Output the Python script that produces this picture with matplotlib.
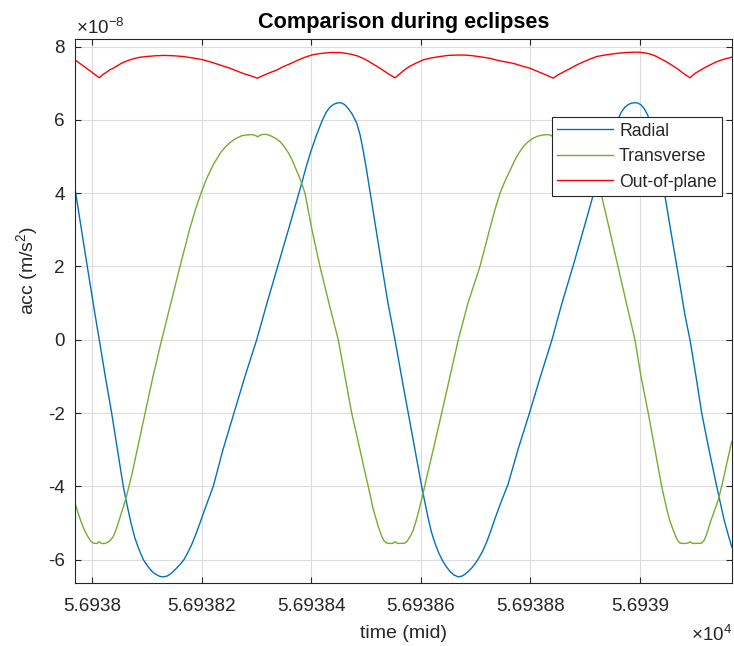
import numpy as np
import matplotlib
matplotlib.use("Agg")
import matplotlib.pyplot as plt
from matplotlib.ticker import FuncFormatter

plt.rcParams['font.family'] = ['Liberation Sans', 'DejaVu Sans']
plt.rcParams['mathtext.fontset'] = 'custom'
plt.rcParams['mathtext.rm'] = 'Liberation Sans'
plt.rcParams['mathtext.it'] = 'Liberation Sans:italic'

# ---------------- data (time in MJD, acceleration in units of 1e-8 m/s^2) ----------------
t_radial = [56937.9679, 56937.9775, 56937.9867, 56937.9958, 56938.0049, 56938.0128,
            56938.0232, 56938.0354, 56938.0460, 56938.0566, 56938.0634, 56938.0707,
            56938.0780, 56938.0853, 56938.0932, 56938.0999, 56938.1054, 56938.1118,
            56938.1182, 56938.1237, 56938.1297, 56938.1364, 56938.1419, 56938.1483,
            56938.1547, 56938.1611, 56938.1675, 56938.1748, 56938.1821, 56938.1894,
            56938.1967, 56938.2086, 56938.2210, 56938.2387, 56938.2588, 56938.2789,
            56938.3003, 56938.3191, 56938.3397, 56938.3611, 56938.3825, 56938.3903,
            56938.3995, 56938.4086, 56938.4190, 56938.4269, 56938.4342, 56938.4415,
            56938.4469, 56938.4511, 56938.4561, 56938.4616, 56938.4670, 56938.4743,
            56938.4829, 56938.4890, 56938.4944, 56938.5008, 56938.5072, 56938.5182,
            56938.5291, 56938.5401, 56938.5529, 56938.5648, 56938.5772, 56938.5894,
            56938.6016, 56938.6077, 56938.6132, 56938.6195, 56938.6259, 56938.6323,
            56938.6387, 56938.6460, 56938.6533, 56938.6606, 56938.6685, 56938.6753,
            56938.6807, 56938.6871, 56938.6935, 56938.6999, 56938.7063, 56938.7136,
            56938.7209, 56938.7282, 56938.7355, 56938.7474, 56938.7593, 56938.7775,
            56938.7985, 56938.8186, 56938.8396, 56938.8579, 56938.8789, 56938.8999,
            56938.9209, 56938.9291, 56938.9383, 56938.9474, 56938.9584, 56938.9657,
            56938.9730, 56938.9803, 56938.9858, 56938.9912, 56938.9967, 56939.0022,
            56939.0077, 56939.0132, 56939.0205, 56939.0269, 56939.0333, 56939.0396,
            56939.0460, 56939.0552, 56939.0643, 56939.0734, 56939.0826, 56939.0917,
            56939.1027, 56939.1131, 56939.1264, 56939.1405, 56939.1465, 56939.1538,
            56939.1611, 56939.1679]
radial = [4.18, 3.26, 2.39, 1.55, 0.70, 0.0,
          -0.95, -2.0, -3.0, -4.0, -4.5, -5.0,
          -5.42, -5.72, -6.0, -6.15, -6.26, -6.36,
          -6.42, -6.46, -6.47, -6.45, -6.40, -6.32,
          -6.22, -6.12, -6.0, -5.8, -5.57, -5.3,
          -5.0, -4.5, -4.0, -3.0, -2.0, -1.0,
          0.0, 1.0, 2.05, 3.15, 4.27, 4.7,
          5.15, 5.55, 5.95, 6.2, 6.35, 6.43,
          6.46, 6.47, 6.46, 6.41, 6.32, 6.17,
          5.92, 5.6, 5.2, 4.65, 4.05, 3.0,
          2.0, 1.0, 0.0, -1.0, -2.0, -3.0,
          -4.0, -4.45, -4.85, -5.25, -5.55, -5.8,
          -6.0, -6.18, -6.32, -6.42, -6.47, -6.45,
          -6.40, -6.32, -6.22, -6.1, -5.95, -5.75,
          -5.5, -5.2, -4.88, -4.4, -3.95, -3.0,
          -2.0, -1.0, 0.0, 1.0, 2.05, 3.15,
          4.27, 4.7, 5.15, 5.55, 5.95, 6.2,
          6.35, 6.43, 6.46, 6.47, 6.46, 6.41,
          6.32, 6.17, 5.92, 5.55, 5.05, 4.5,
          3.92, 3.1, 2.3, 1.5, 0.67, 0.0,
          -1.0, -2.0, -3.0, -4.0, -4.4, -4.9,
          -5.3, -5.65]

t_transverse = [56937.9679, 56937.9739, 56937.9803, 56937.9867, 56937.9931, 56937.9976,
                56938.0018, 56938.0086, 56938.0128, 56938.0168, 56938.0232, 56938.0292,
                56938.0342, 56938.0384, 56938.0442, 56938.0506, 56938.0570, 56938.0628,
                56938.0720, 56938.0835, 56938.0963, 56938.1109, 56938.1268, 56938.1419,
                56938.1602, 56938.1784, 56938.1894, 56938.1998, 56938.2095, 56938.2210,
                56938.2351, 56938.2442, 56938.2515, 56938.2588, 56938.2661, 56938.2734,
                56938.2820, 56938.2917, 56938.2972, 56938.3021, 56938.3063, 56938.3100,
                56938.3154, 56938.3218, 56938.3282, 56938.3355, 56938.3428, 56938.3501,
                56938.3574, 56938.3638, 56938.3702, 56938.3766, 56938.3825, 56938.3885,
                56938.4013, 56938.4159, 56938.4323, 56938.4493, 56938.4616, 56938.4738,
                56938.4890, 56938.4963, 56938.5041, 56938.5127, 56938.5224, 56938.5291,
                56938.5337, 56938.5377, 56938.5456, 56938.5501, 56938.5529, 56938.5565,
                56938.5602, 56938.5711, 56938.5748, 56938.5785, 56938.5821, 56938.5863,
                56938.5903, 56938.5949, 56938.6035, 56938.6132, 56938.6259, 56938.6382,
                56938.6533, 56938.6685, 56938.6862, 56938.7081, 56938.7264, 56938.7355,
                56938.7447, 56938.7538, 56938.7629, 56938.7721, 56938.7794, 56938.7872,
                56938.7958, 56938.8049, 56938.8141, 56938.8238, 56938.8323, 56938.8378,
                56938.8415, 56938.8460, 56938.8506, 56938.8597, 56938.8661, 56938.8725,
                56938.8789, 56938.8853, 56938.8926, 56938.8999, 56938.9063, 56938.9127,
                56938.9200, 56938.9304, 56938.9456, 56938.9602, 56938.9748, 56938.9912,
                56939.0022, 56939.0155, 56939.0278, 56939.0400, 56939.0497, 56939.0552,
                56939.0612, 56939.0680, 56939.0734, 56939.0826, 56939.0880, 56939.0917,
                56939.0954, 56939.1008, 56939.1131, 56939.1173, 56939.1209, 56939.1246,
                56939.1282, 56939.1355, 56939.1434, 56939.1520, 56939.1593, 56939.1679]
transverse = [-4.42, -4.72, -5.0, -5.23, -5.4, -5.5,
              -5.55, -5.56, -5.51, -5.56, -5.56, -5.52,
              -5.45, -5.37, -5.15, -4.85, -4.55, -4.25,
              -3.7, -2.9, -2.0, -1.0, 0.0, 0.9,
              2.0, 3.05, 3.6, 4.05, 4.42, 4.78,
              5.12, 5.28, 5.38, 5.46, 5.52, 5.57,
              5.59, 5.60, 5.58, 5.54, 5.58, 5.60,
              5.61, 5.59, 5.55, 5.49, 5.41, 5.28,
              5.12, 4.95, 4.72, 4.5, 4.27, 4.0,
              3.0, 2.0, 1.0, 0.0, -1.0, -2.0,
              -3.0, -3.5, -4.0, -4.6, -5.1, -5.38,
              -5.5, -5.55, -5.56, -5.55, -5.51, -5.55,
              -5.56, -5.55, -5.5, -5.42, -5.33, -5.19,
              -5.0, -4.75, -4.24, -3.6, -2.8, -2.0,
              -1.0, 0.0, 1.0, 2.0, 3.05, 3.55,
              4.0, 4.33, 4.62, 4.91, 5.1, 5.27,
              5.4, 5.5, 5.56, 5.59, 5.60, 5.58,
              5.54, 5.58, 5.60, 5.60, 5.57, 5.52,
              5.46, 5.38, 5.24, 5.06, 4.86, 4.62,
              4.33, 3.92, 2.95, 2.0, 1.05, 0.0,
              -1.0, -2.0, -3.0, -4.0, -4.65, -4.95,
              -5.2, -5.45, -5.55, -5.56, -5.55, -5.51,
              -5.55, -5.56, -5.55, -5.48, -5.36, -5.2,
              -5.01, -4.7, -4.37, -3.85, -3.35, -2.78]

t_outofplane = [56937.9679, 56937.9794, 56937.9903, 56938.0013, 56938.0128, 56938.0195,
                56938.0268, 56938.0323, 56938.0384, 56938.0460, 56938.0537, 56938.0616,
                56938.0689, 56938.0780, 56938.0871, 56938.0994, 56938.1145, 56938.1328,
                56938.1492, 56938.1662, 56938.1839, 56938.2027, 56938.2186, 56938.2351,
                56938.2515, 56938.2667, 56938.2771, 56938.2880, 56938.3014, 56938.3118,
                56938.3246, 56938.3368, 56938.3483, 56938.3611, 56938.3739, 56938.3867,
                56938.4007, 56938.4104, 56938.4219, 56938.4360, 56938.4524, 56938.4707,
                56938.4835, 56938.4950, 56938.5036, 56938.5145, 56938.5255, 56938.5346,
                56938.5437, 56938.5529, 56938.5620, 56938.5675, 56938.5743, 56938.5821,
                56938.5912, 56938.6046, 56938.6186, 56938.6351, 56938.6497, 56938.6656,
                56938.6807, 56938.6953, 56938.7100, 56938.7264, 56938.7392, 56938.7520,
                56938.7629, 56938.7721, 56938.7849, 56938.7995, 56938.8122, 56938.8269,
                56938.8420, 56938.8506, 56938.8597, 56938.8725, 56938.8848, 56938.8963,
                56938.9090, 56938.9213, 56938.9364, 56938.9547, 56938.9748, 56938.9973,
                56939.0095, 56939.0186, 56939.0278, 56939.0369, 56939.0460, 56939.0570,
                56939.0674, 56939.0753, 56939.0844, 56939.0917, 56939.1008, 56939.1099,
                56939.1191, 56939.1282, 56939.1392, 56939.1501, 56939.1593, 56939.1679]
outofplane = [7.64, 7.52, 7.40, 7.28, 7.15, 7.24,
              7.31, 7.37, 7.41, 7.48, 7.55, 7.60,
              7.64, 7.68, 7.71, 7.73, 7.75, 7.76,
              7.75, 7.73, 7.69, 7.64, 7.57, 7.49,
              7.41, 7.32, 7.26, 7.21, 7.14, 7.21,
              7.29, 7.36, 7.45, 7.53, 7.62, 7.70,
              7.77, 7.80, 7.82, 7.84, 7.84, 7.80,
              7.75, 7.68, 7.61, 7.51, 7.41, 7.32,
              7.23, 7.15, 7.26, 7.33, 7.41, 7.48,
              7.55, 7.64, 7.69, 7.73, 7.76, 7.77,
              7.77, 7.75, 7.72, 7.68, 7.63, 7.59,
              7.56, 7.53, 7.47, 7.41, 7.33, 7.24,
              7.14, 7.23, 7.30, 7.40, 7.50, 7.58,
              7.66, 7.73, 7.77, 7.81, 7.84, 7.85,
              7.83, 7.80, 7.75, 7.68, 7.61, 7.51,
              7.41, 7.32, 7.22, 7.15, 7.27, 7.35,
              7.43, 7.50, 7.58, 7.64, 7.68, 7.71]

scale = 1e-8
series_labels = ['Radial', 'Transverse', 'Out-of-plane']
series_colors = ['#0072BD', '#77AC30', '#FF0000']
x_ticks = [56938.0, 56938.2, 56938.4, 56938.6, 56938.8, 56939.0]
y_ticks = [-6, -4, -2, 0, 2, 4, 6, 8]
x_limits = [56937.9679, 56939.1679]
y_limits = [-6.63, 8.20]

# ---------------- figure ----------------
W, H = 734, 646
fig = plt.figure(figsize=(W / 100, H / 100), dpi=100, facecolor='white')
ax = fig.add_axes([74.7 / W, 1 - 582.7 / H, (731.7 - 74.7) / W, (582.7 - 39.3) / H])

dark = '#262626'
for t, v, lab, col in zip([t_radial, t_transverse, t_outofplane],
                          [radial, transverse, outofplane],
                          series_labels, series_colors):
    ax.plot(t, np.array(v) * scale, color=col, lw=1.0, label=lab)

ax.set_xlim(x_limits)
ax.set_ylim(np.array(y_limits) * scale)
ax.set_xticks(x_ticks)
ax.set_yticks(np.array(y_ticks) * scale)
ax.xaxis.set_major_formatter(FuncFormatter(lambda v, p: f"{v / 1e4:g}"))
ax.yaxis.set_major_formatter(FuncFormatter(lambda v, p: f"{round(v / scale, 6):g}"))

ax.grid(True, color='#dcdcdc', lw=0.8)
ax.set_axisbelow(True)
for s in ax.spines.values():
    s.set_color(dark)
    s.set_linewidth(0.8)
ax.tick_params(direction='in', top=True, right=True, length=4, width=0.8,
               color=dark, labelcolor=dark, labelsize=13.6)
ax.tick_params(axis='x', pad=11)
ax.tick_params(axis='y', pad=7)

ax.set_title('Comparison during eclipses', fontsize=15.6, fontweight='bold',
             color='black', pad=8)
ax.set_xlabel('time (mid)', fontsize=14, color=dark)
ax.xaxis.set_label_coords(0.5, -0.077)
ax.set_ylabel('acc (m/s$^{\\mathregular{2}}$)', fontsize=14, color=dark)
ax.yaxis.set_label_coords(-0.053, 0.575)

fig.text(76 / W, 1 - 34 / H, '×10$^{\\mathregular{-8}}$', fontsize=13.6, color=dark,
         ha='left', va='baseline')
fig.text(732 / W, 1 - 641 / H, '×10$^{\\mathregular{4}}$', fontsize=13.6, color=dark,
         ha='right', va='baseline')

leg = ax.legend(loc='upper right', bbox_to_anchor=((722 - 74.7) / 657, (582.7 - 117.3) / 543.4),
                borderaxespad=0, fontsize=12.7, frameon=True, fancybox=False,
                edgecolor=dark, framealpha=1, handlelength=3.2, handletextpad=0.32,
                labelspacing=0.48, borderpad=0.3)
leg.get_frame().set_linewidth(0.8)
for txt in leg.get_texts():
    txt.set_color(dark)

fig.savefig('out.png', dpi=100, facecolor='white')
